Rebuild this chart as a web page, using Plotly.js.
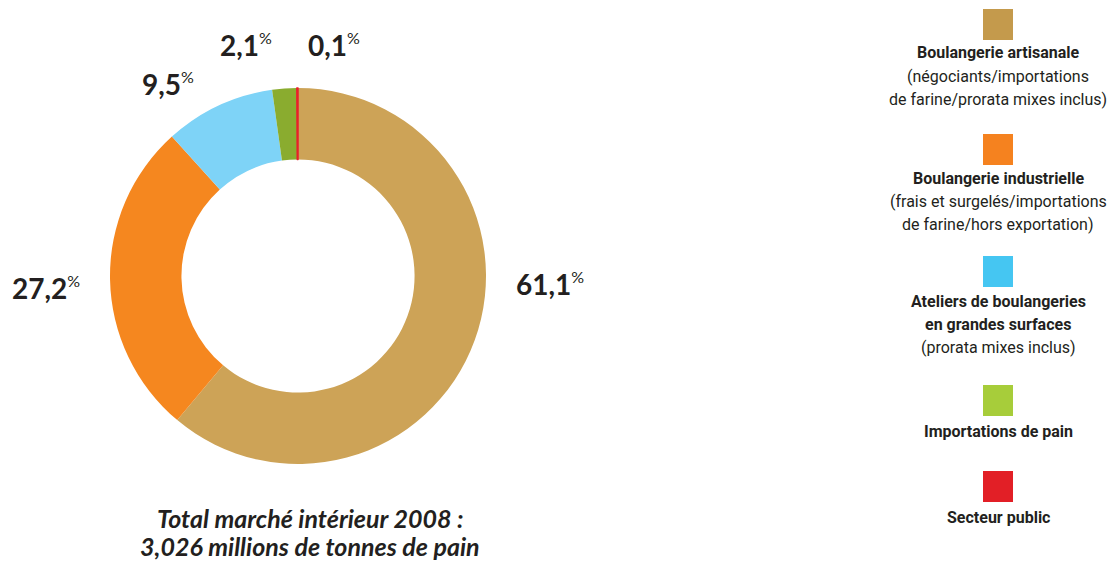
<!DOCTYPE html>
<html><head><meta charset="utf-8">
<script src="https://cdn.plot.ly/plotly-3.0.1.min.js"></script>
<style>html,body{margin:0;padding:0;background:#fff}#chart{width:1114px;height:562px}</style>
</head><body><div id="chart"></div>
<script>
const categories = ["Boulangerie artisanale","Boulangerie industrielle","Ateliers de boulangeries en grandes surfaces","Importations de pain","Secteur public"];
const values = [61.1, 27.2, 9.5, 2.1, 0.1];
const valueLabels = ["61,1","27,2","9,5","2,1","0,1"];
const sliceColors = ["#CDA357","#F5871F","#7ED3F7","#8AAC2F","#E8202A"];
const legendColors = ["#C49A4C","#F5821F","#45C6F2","#A7CD3A","#E21F26"];
const legendLines = [
  [["Boulangerie artisanale",true],["(négociants/importations",false],["de farine/prorata mixes inclus)",false]],
  [["Boulangerie industrielle",true],["(frais et surgelés/importations",false],["de farine/hors exportation)",false]],
  [["Ateliers de boulangeries",true],["en grandes surfaces",true],["(prorata mixes inclus)",false]],
  [["Importations de pain",true]],
  [["Secteur public",true]]
];
const totalLines = ["Total marché intérieur 2008 :","3,026 millions de tonnes de pain"];

const W = 1114, H = 562;
const px = x => x / W, py = y => 1 - y / H;

const labelPos = [[550,284],[46,288],[168,84],[246,45],[334,45]];
const legendSquareTop = [9,134,256,385,471];
const legendLineY = [[53,76,99],[178,201,224],[301,324,347],[431],[517]];
const legendX = 998;

const annotations = [];
const shapes = [];
valueLabels.forEach((v,i)=>{
  annotations.push({xref:'paper',yref:'paper',x:px(labelPos[i][0]),y:py(labelPos[i][1]),
    xanchor:'center',yanchor:'middle',showarrow:false,
    text:'<b>'+v+'</b><sup><span style="font-size:16px">%</span></sup>',
    font:{family:'Lato, "Open Sans", sans-serif',size:28,color:'#231F20'}});
});
legendLines.forEach((lines,i)=>{
  shapes.push({type:'rect',xref:'paper',yref:'paper',
    x0:px(legendX-15),x1:px(legendX+15),y0:py(legendSquareTop[i]+31),y1:py(legendSquareTop[i]),
    fillcolor:legendColors[i],line:{width:0}});
  lines.forEach((ln,j)=>{
    annotations.push({xref:'paper',yref:'paper',x:px(legendX),y:py(legendLineY[i][j]),
      xanchor:'center',yanchor:'middle',showarrow:false,
      text: ln[1] ? '<b>'+ln[0]+'</b>' : ln[0],
      font:{family:'Roboto, sans-serif',size:16,color:'#231F20'}});
  });
});
totalLines.forEach((t,j)=>{
  annotations.push({xref:'paper',yref:'paper',x:px(310),y:py(518+28*j),
    xanchor:'center',yanchor:'middle',showarrow:false,
    text:'<b><i>'+t+'</i></b>',
    font:{family:'Lato, "Open Sans", sans-serif',size:25,color:'#231F20'}});
});

const cx = 298, cy = 276, r = 188;
const data = [{
  type:'pie', labels:categories, values:values, sort:false, direction:'clockwise', rotation:0,
  hole:0.62, textinfo:'none', hoverinfo:'label+percent',
  marker:{colors:sliceColors, line:{color:sliceColors, width:[0,0,0,0,1.5]}},
  domain:{x:[px(cx-r),px(cx+r)], y:[py(cy+r),py(cy-r)]},
  showlegend:false
}];
const layout = {width:W,height:H,margin:{l:0,r:0,t:0,b:0},paper_bgcolor:'#fff',
  showlegend:false, annotations:annotations, shapes:shapes};
Plotly.newPlot('chart',data,layout,{displayModeBar:false,staticPlot:true});
</script></body></html>
